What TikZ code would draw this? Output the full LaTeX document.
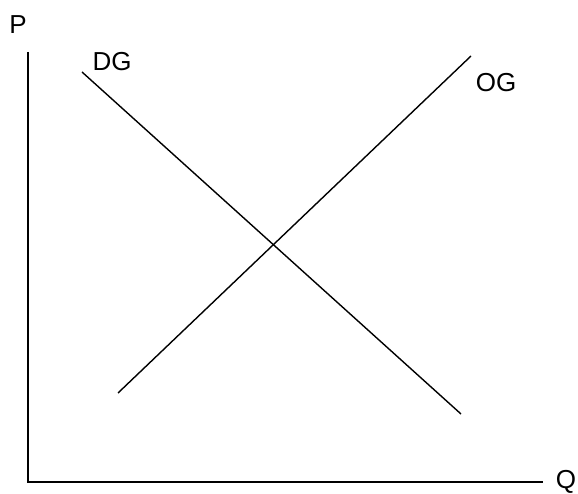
\documentclass[tikz,border=0pt]{standalone}
\usepackage{fontspec}
\setmainfont{Liberation Sans}
\begin{document}
\begin{tikzpicture}[x=1pt,y=1pt,
  lbl/.style={inner sep=0pt,font=\fontsize{26}{30}\selectfont},
  ln/.style={line width=1.4pt}]
\useasboundingbox (0,0) rectangle (578,493);
% axes
\coordinate (top) at (28,441);
\coordinate (origin) at (28,11);
\coordinate (right) at (543,11);
\draw[ln] (top) -- (origin) -- (right);
% curves
\coordinate (dg1) at (82,421);
\coordinate (dg2) at (461,79);
\coordinate (og1) at (118,100);
\coordinate (og2) at (471,437);
\draw[ln] (dg1) -- (dg2);
\draw[ln] (og1) -- (og2);
% labels
\node[lbl] (P) at (18,468) {P};
\node[lbl] (Q) at (566,11) {Q};
\node[lbl] (DG) at (112,431) {DG};
\node[lbl] (OG) at (496,410) {OG};
\end{tikzpicture}
\end{document}
